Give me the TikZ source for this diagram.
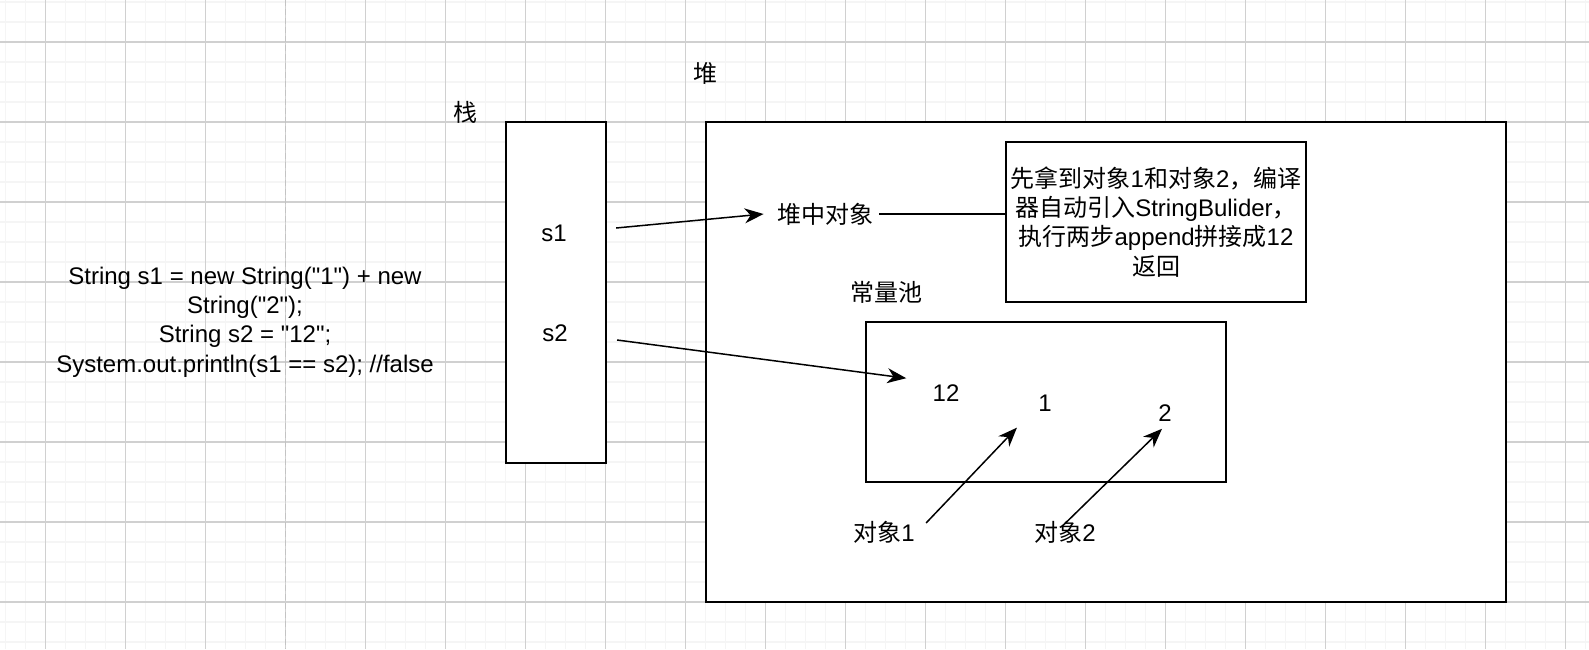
\documentclass[tikz,border=0pt]{standalone}
\usepackage{fontspec}
\setmainfont{Liberation Sans}[Ligatures=TeXOff]
\newfontfamily\cjk{Noto Sans CJK SC}
\usetikzlibrary{arrows.meta}

\definecolor{gridminor}{RGB}{245,245,245}
\definecolor{gridmajor}{RGB}{208,208,208}
\definecolor{pageline}{RGB}{195,195,195}

\tikzset{
    box/.style={draw, line width=0.8pt, fill=white, inner sep=0pt, align=center,
        font=\fontsize{12}{14.6}\selectfont},
    lbl/.style={inner sep=3pt, align=center, font=\fontsize{12}{14.6}\selectfont},
    arr/.style={-{Stealth[length=9.5pt, width=7.5pt, inset=3pt]}, line width=0.75pt},
}

\begin{document}
\begin{tikzpicture}[x=0.5pt, y=-0.5pt]
    \useasboundingbox (0,0) rectangle (1589,649);

    % Background grid
    \begin{scope}
        \clip (0,0) rectangle (1589,649);
        \foreach \gx in {5.5,25.5,...,1600}
            \draw[gridminor, line width=0.7pt] (\gx,0) -- (\gx,649);
        \foreach \gy in {2,22,...,660}
            \draw[gridminor, line width=0.7pt] (0,\gy) -- (1589,\gy);
        \foreach \gx in {45.5,125.5,...,1600}
            \draw[gridmajor, line width=0.55pt] (\gx,0) -- (\gx,649);
        \foreach \gy in {42,122,...,660}
            \draw[gridmajor, line width=0.55pt] (0,\gy) -- (1589,\gy);
        \draw[pageline, line width=0.6pt, dash pattern=on 3pt off 1.5pt] (285.5,0) -- (285.5,649);
    \end{scope}

    % Code
    \node[lbl] (code) at (245,322) {String s1 = new String("1") + new\\
        String("2");\\
        String s2 = "12";\\
        System.out.println(s1 == s2); //false};

    % Stack
    \node[lbl] (stacklbl) at (465,112) {\cjk 栈};
    \node[box, minimum width=50pt, minimum height=170.5pt] (stack) at (556,292.5) {};
    \node[lbl] (s1) at (554,233) {s1};
    \node[lbl] (s2) at (555,333) {s2};

    % Heap
    \node[lbl] (heaplbl) at (705,73) {\cjk 堆};
    \node[box, minimum width=400pt, minimum height=240pt] (heap) at (1106,362) {};
    \node[lbl] (heapobj) at (825,214) {\cjk 堆中对象};
    \node[box, minimum width=150pt, minimum height=80pt] (desc) at (1156,222)
        {{\cjk 先拿到对象}1{\cjk 和对象}2{\cjk ，编译}\\
         {\cjk 器自动引入}StringBulider{\cjk ，}\\
         {\cjk 执行两步}append{\cjk 拼接成}12\\
         {\cjk 返回}};

    % Constant pool
    \node[lbl] (poollbl) at (886,292) {\cjk 常量池};
    \node[box, minimum width=180pt, minimum height=80pt] (pool) at (1046,402) {};
    \node[lbl] (n12) at (946,393) {12};
    \node[lbl] (one) at (1045,403) {1};
    \node[lbl] (two) at (1165,413) {2};
    \node[lbl] (obj1) at (884,532) {{\cjk 对象}1};
    \node[lbl] (obj2) at (1065,532) {{\cjk 对象}2};

    % References
    \draw[arr] ([xshift=21.5pt, yshift=2.5pt]s1.east) -- ([xshift=-3.5pt]heapobj.west);
    \draw[line width=0.75pt] (heapobj.east) -- (heapobj.east -| desc.west);
    \draw[arr] ([xshift=21.5pt, yshift=-3.5pt]s2.east) -- ([xshift=-10pt]n12.north west);
    \draw[arr] ([xshift=2.5pt, yshift=4.5pt]obj1.east) -- ([xshift=-7.5pt, yshift=-5pt]one.south west);
    \draw[arr] ([yshift=-4.5pt]obj2.north) -- ([xshift=-1.5pt, yshift=-0.5pt]two.south);
\end{tikzpicture}
\end{document}
